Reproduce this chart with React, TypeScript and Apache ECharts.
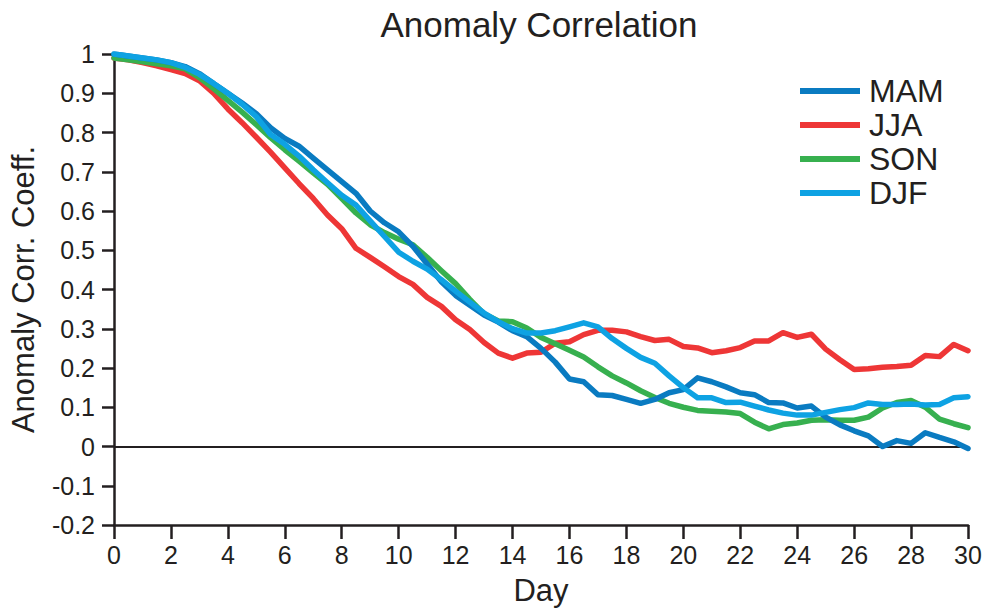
import React, { useEffect, useRef } from "react";
import * as echarts from "echarts";

const days: number[] = Array.from({ length: 61 }, (_, i) => i * 0.5);

const MAM: number[] = [
  1.0, 0.995, 0.99, 0.985, 0.978, 0.968, 0.95, 0.925, 0.9, 0.875,
  0.848, 0.812, 0.785, 0.765, 0.735, 0.705, 0.675, 0.645, 0.6, 0.57,
  0.547, 0.51, 0.465, 0.42, 0.385, 0.36, 0.335, 0.317, 0.295, 0.28,
  0.25, 0.215, 0.172, 0.165, 0.132, 0.13, 0.12, 0.11, 0.12, 0.137,
  0.145, 0.175, 0.165, 0.152, 0.137, 0.132, 0.112, 0.111, 0.098, 0.103,
  0.075, 0.055, 0.04, 0.027, 0.0, 0.015, 0.008, 0.035, 0.023, 0.012,
  -0.005,
];

const JJA: number[] = [
  0.99, 0.985, 0.978, 0.97, 0.96, 0.95, 0.932, 0.9, 0.86, 0.825,
  0.788, 0.75, 0.71, 0.67, 0.632, 0.59, 0.555, 0.505, 0.482, 0.458,
  0.433, 0.413, 0.38, 0.357, 0.323, 0.298, 0.265, 0.238, 0.225, 0.238,
  0.24, 0.263, 0.267, 0.285, 0.296, 0.296, 0.292, 0.28, 0.27, 0.273,
  0.255, 0.251, 0.239, 0.244, 0.252, 0.269, 0.269, 0.29, 0.278, 0.286,
  0.248, 0.221, 0.196, 0.198, 0.202, 0.204, 0.207, 0.232, 0.229, 0.26,
  0.244,
];

const SON: number[] = [
  0.99, 0.985, 0.98, 0.975, 0.97, 0.962, 0.94, 0.912, 0.882, 0.852,
  0.82, 0.787, 0.756, 0.727, 0.697, 0.668, 0.632, 0.595, 0.565, 0.545,
  0.528, 0.514, 0.482, 0.448, 0.415, 0.375, 0.338, 0.32, 0.318, 0.302,
  0.278, 0.262, 0.245, 0.228, 0.203, 0.18, 0.162, 0.142, 0.125, 0.11,
  0.1, 0.092, 0.09, 0.088, 0.084, 0.062, 0.045, 0.056, 0.06, 0.067,
  0.068, 0.067, 0.067, 0.075, 0.098, 0.112, 0.117, 0.1, 0.07, 0.058,
  0.048,
];

const DJF: number[] = [
  1.0, 0.995, 0.99, 0.985, 0.978, 0.966, 0.948, 0.925, 0.9, 0.872,
  0.84, 0.795, 0.77, 0.74, 0.705, 0.672, 0.64, 0.615, 0.575, 0.535,
  0.495, 0.472, 0.452, 0.425, 0.396, 0.368, 0.34, 0.318, 0.3, 0.289,
  0.289, 0.295, 0.305, 0.315, 0.305, 0.275, 0.25, 0.227, 0.212, 0.18,
  0.15, 0.124, 0.124, 0.112, 0.113, 0.103, 0.093, 0.085, 0.08, 0.08,
  0.087, 0.094, 0.099, 0.111, 0.107, 0.107, 0.108, 0.106, 0.107, 0.124,
  0.127,
];

const seriesNames = ["MAM", "JJA", "SON", "DJF"];
const seriesValues = [MAM, JJA, SON, DJF];
const seriesColors = ["#0a7bc1", "#ee3636", "#37b04f", "#0ea2e3"];

const FONT = "Liberation Sans, Arial, Helvetica, sans-serif";
const INK = "#231f20";

export default function App() {
  const ref = useRef<HTMLDivElement>(null);

  useEffect(() => {
    if (!ref.current) return;
    const chart = echarts.init(ref.current, undefined, { renderer: "svg" });

    const series: any[] = seriesNames.map((name, si) => ({
      name,
      type: "line",
      data: days.map((d, i) => [d, seriesValues[si][i]]),
      showSymbol: false,
      symbol: "none",
      smooth: false,
      lineStyle: { width: 5.5, color: seriesColors[si], join: "round", cap: "round" },
      itemStyle: { color: seriesColors[si] },
      z: 10 + (si === 0 ? 3 : si),
    }));

    series[0].markLine = {
      silent: true,
      symbol: "none",
      label: { show: false },
      lineStyle: { color: INK, width: 2, type: "solid" },
      data: [{ yAxis: 0 }],
      z: 1,
    };

    chart.setOption({
      animation: false,
      backgroundColor: "#ffffff",
      title: {
        text: "Anomaly Correlation",
        left: 539,
        textAlign: "center",
        top: 7,
        padding: 0,
        textStyle: { fontFamily: FONT, fontSize: 35, fontWeight: "normal", color: INK },
      },
      legend: {
        orient: "vertical",
        left: 800,
        top: 75,
        padding: 0,
        itemWidth: 60,
        itemHeight: 6,
        itemGap: 2,
        icon: "rect",
        data: seriesNames,
        textStyle: { fontFamily: FONT, fontSize: 32, color: INK, padding: [0, 0, 0, 4] },
      },
      grid: { left: 110, right: 20, top: 54, bottom: 80, containLabel: false },
      xAxis: {
        type: "value",
        min: 0,
        max: 30,
        interval: 2,
        name: "Day",
        nameLocation: "middle",
        nameGap: 50,
        nameTextStyle: { fontFamily: FONT, fontSize: 31, color: INK },
        axisLine: { onZero: false, lineStyle: { color: INK, width: 2.5 } },
        axisTick: { show: true, length: 14, lineStyle: { color: INK, width: 2.5 } },
        axisLabel: { fontFamily: FONT, fontSize: 25, color: INK, margin: 17 },
        splitLine: { show: false },
      },
      yAxis: {
        type: "value",
        min: -0.2,
        max: 1,
        interval: 0.1,
        name: "Anomaly Corr. Coeff.",
        nameLocation: "middle",
        nameGap: 75,
        nameTextStyle: { fontFamily: FONT, fontSize: 31, color: INK },
        axisLine: { show: true, lineStyle: { color: INK, width: 2.5 } },
        axisTick: { show: true, length: 12, lineStyle: { color: INK, width: 2.5 } },
        axisLabel: {
          fontFamily: FONT,
          fontSize: 25,
          color: INK,
          margin: 19,
          formatter: (v: number) => String(Number(v.toFixed(1))),
        },
        splitLine: { show: false },
      },
      series,
    });

    return () => chart.dispose();
  }, []);

  return (
    <div
      ref={ref}
      style={{ position: "absolute", left: 0, top: 0, width: 988, height: 611 }}
    />
  );
}
